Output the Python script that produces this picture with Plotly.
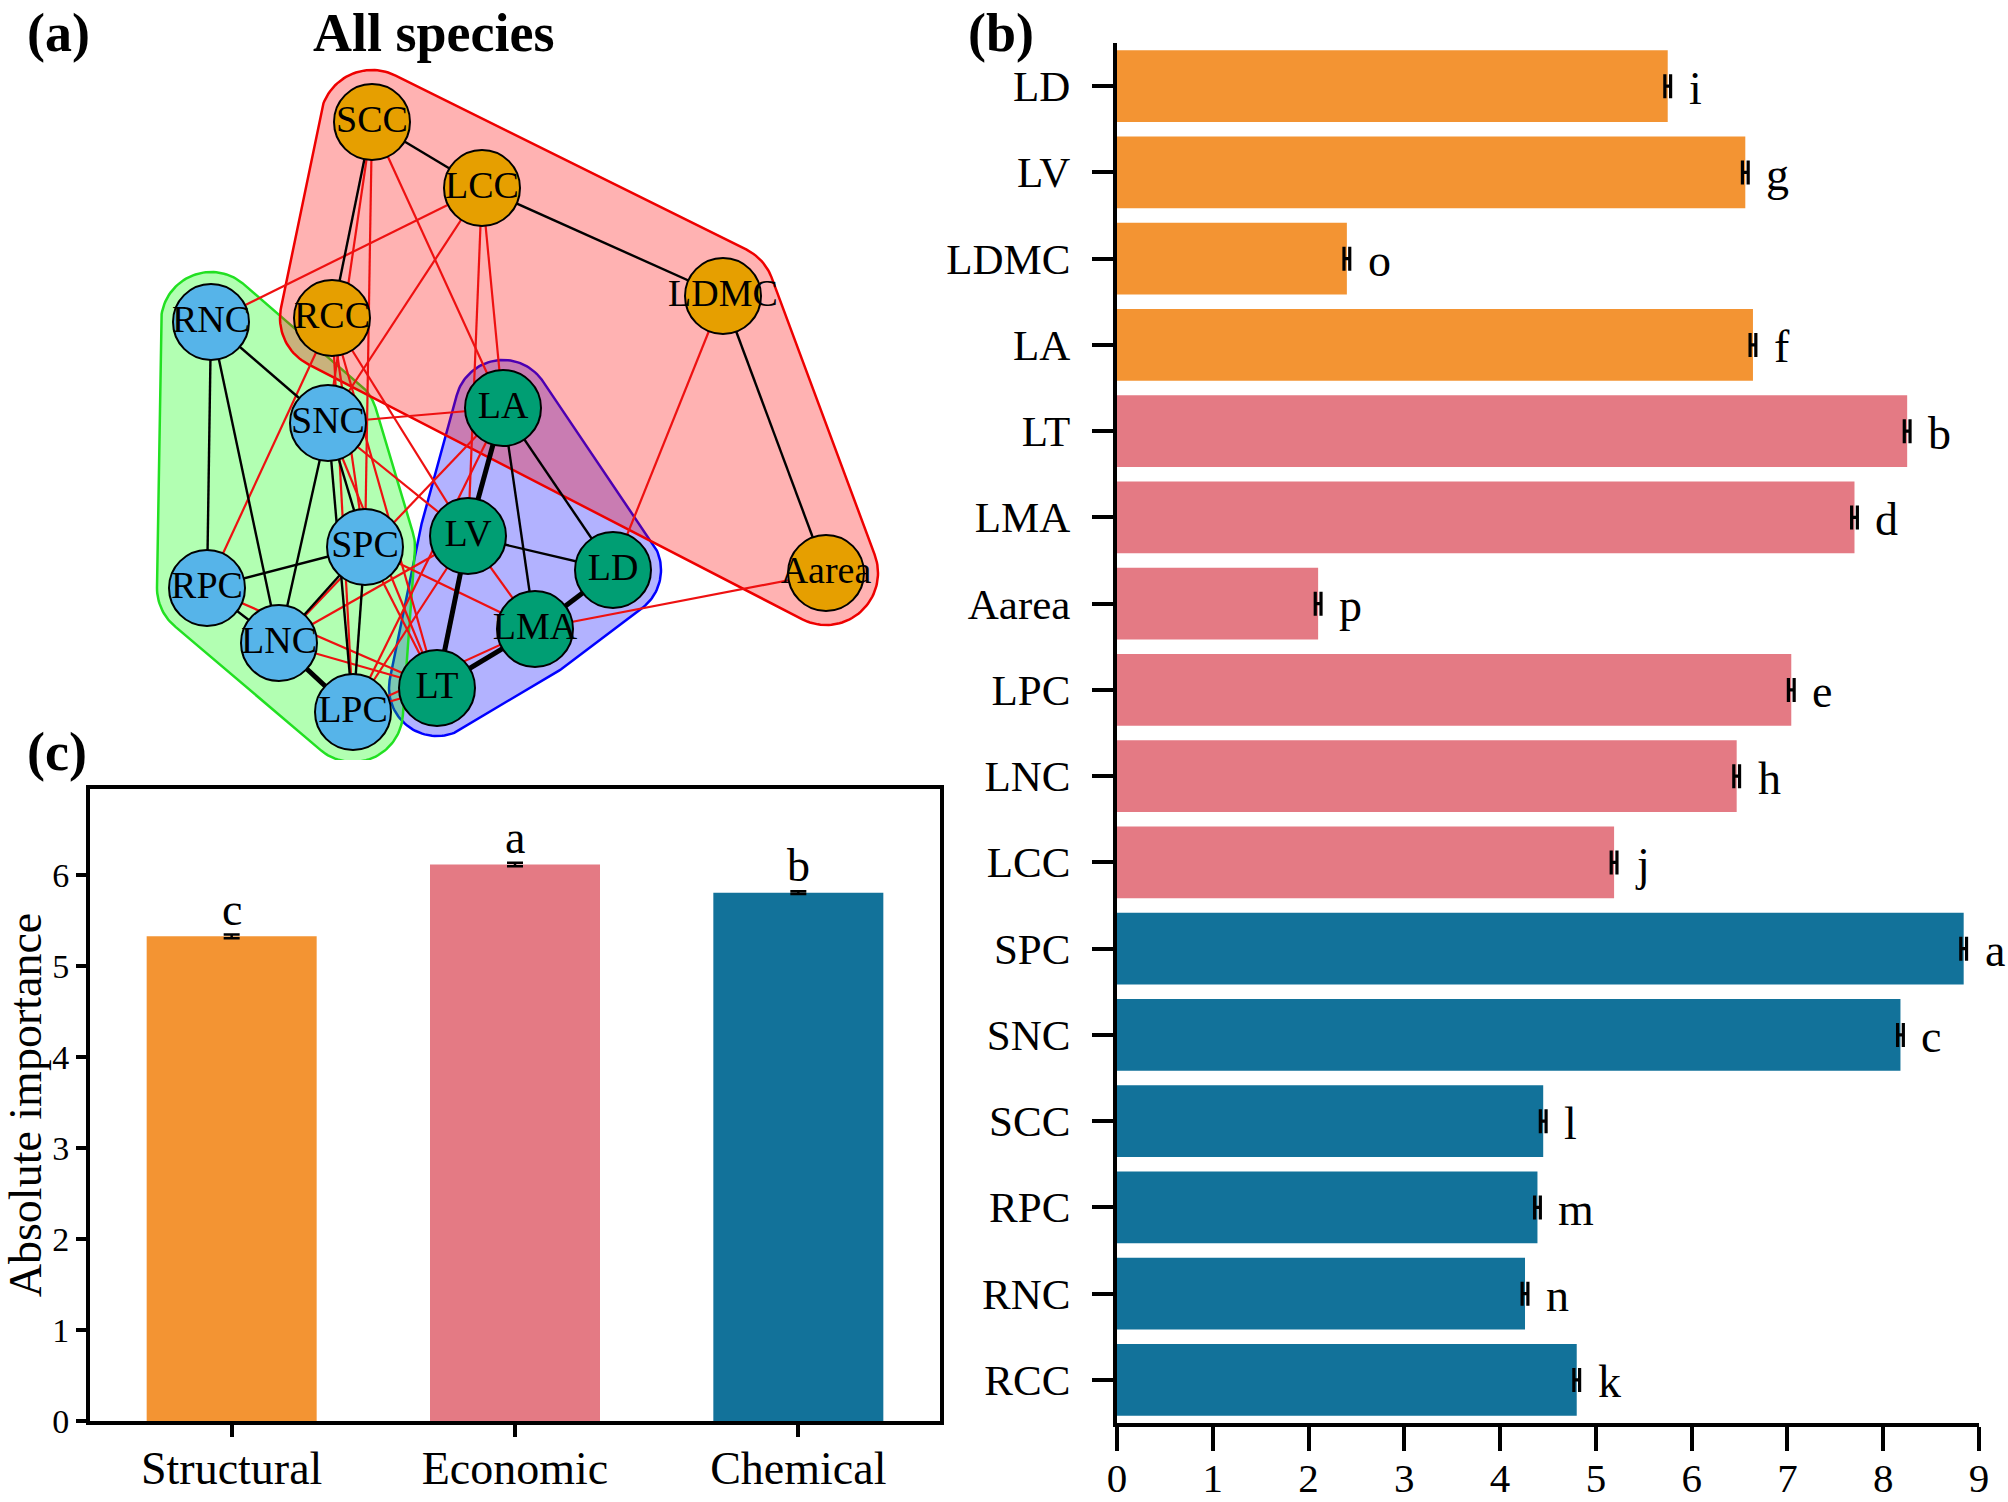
import numpy as np
import plotly.graph_objects as go

W, H = 2008, 1502
FONT = "Liberation Serif, Times New Roman, serif"

ORANGE = "#F39433"
PINK = "#E47A84"
BLUE = "#12729A"

# ---------------- panel (a): trait network ----------------
node_names = ["SCC", "LCC", "LDMC", "RNC", "RCC", "SNC", "LA", "LV", "SPC",
              "LD", "RPC", "Aarea", "LNC", "LMA", "LT", "LPC"]
node_x = [372, 482, 723, 211, 332, 328, 503, 468, 365, 613, 207, 826, 279, 535, 437, 353]
node_y = [122, 188, 296, 322, 318, 423, 408, 536, 547, 570, 588, 573, 643, 629, 688, 712]
node_module = ["orange", "orange", "orange", "blue", "orange", "blue", "green", "green", "blue",
               "green", "blue", "orange", "blue", "green", "green", "blue"]
module_colors = {"orange": "#E69F00", "blue": "#56B4E9", "green": "#009E73"}

group_red = ["SCC", "LCC", "LDMC", "Aarea", "RCC"]
group_green = ["RNC", "SNC", "SPC", "RPC", "LNC", "LPC"]
group_blue = ["LA", "LV", "LD", "LMA", "LT"]

edges_pos_thin = [("SCC", "LCC"), ("SCC", "RCC"), ("LCC", "LDMC"), ("LDMC", "Aarea"),
                  ("RNC", "SNC"), ("RNC", "RPC"), ("RNC", "LNC"), ("SNC", "SPC"),
                  ("SNC", "LNC"), ("SNC", "LPC"), ("SPC", "RPC"), ("SPC", "LNC"),
                  ("SPC", "LPC"), ("RPC", "LNC"), ("LA", "LMA"), ("LA", "LD"), ("LV", "LD")]
edges_pos_thick = [("LNC", "LPC"), ("LA", "LV"), ("LV", "LT"), ("LT", "LMA"), ("LMA", "LD")]
edges_neg = [("SCC", "SNC"), ("SCC", "SPC"), ("SCC", "LA"), ("LCC", "RNC"), ("LCC", "SNC"),
             ("LCC", "LA"), ("LCC", "LV"), ("LDMC", "LD"), ("Aarea", "LMA"), ("RCC", "RPC"),
             ("RCC", "SPC"), ("RCC", "LPC"), ("RCC", "LT"), ("RCC", "LV"), ("SNC", "LA"),
             ("SNC", "LV"), ("SNC", "LT"), ("SPC", "LMA"), ("SPC", "LT"), ("LA", "LNC"),
             ("LA", "LPC"), ("LV", "LNC"), ("LV", "LPC"), ("LV", "LMA"), ("LNC", "LT"),
             ("LPC", "LT"), ("RPC", "LT"), ("LPC", "LMA")]

# ---------------- panel (b): trait importance ----------------
traits = ["LD", "LV", "LDMC", "LA", "LT", "LMA", "Aarea", "LPC", "LNC", "LCC",
          "SPC", "SNC", "SCC", "RPC", "RNC", "RCC"]
trait_type = ["Structural"] * 4 + ["Economic"] * 6 + ["Chemical"] * 6
trait_values = [5.75, 6.56, 2.40, 6.64, 8.25, 7.70, 2.10, 7.04, 6.47, 5.19,
                8.84, 8.18, 4.45, 4.39, 4.26, 4.80]
trait_err = [0.03, 0.03, 0.03, 0.03, 0.03, 0.03, 0.03, 0.03, 0.03, 0.03,
             0.03, 0.03, 0.03, 0.03, 0.03, 0.03]
trait_letters = ["i", "g", "o", "f", "b", "d", "p", "e", "h", "j", "a", "c", "l", "m", "n", "k"]

# ---------------- panel (c): group importance ----------------
groups = ["Structural", "Economic", "Chemical"]
group_values = [5.33, 6.12, 5.81]
group_err = [0.02, 0.02, 0.015]
group_letters = ["c", "a", "b"]
type_colors = {"Structural": ORANGE, "Economic": PINK, "Chemical": BLUE}

fig = go.Figure()


def hull(names, r=50):
    pts = []
    for n in names:
        i = node_names.index(n)
        for t in np.linspace(0, 2 * np.pi, 120, endpoint=False):
            pts.append((node_x[i] + r * np.cos(t), node_y[i] + r * np.sin(t)))
    pts = sorted(set(pts))

    def cross(o, a, b):
        return (a[0] - o[0]) * (b[1] - o[1]) - (a[1] - o[1]) * (b[0] - o[0])
    lower, upper = [], []
    for p in pts:
        while len(lower) >= 2 and cross(lower[-2], lower[-1], p) <= 0:
            lower.pop()
        lower.append(p)
    for p in reversed(pts):
        while len(upper) >= 2 and cross(upper[-2], upper[-1], p) <= 0:
            upper.pop()
        upper.append(p)
    h = lower[:-1] + upper[:-1]
    h.append(h[0])
    return [p[0] for p in h], [p[1] for p in h]


for names, fillc, linec, rad in [(group_blue, "rgba(0,0,255,0.3)", "#0000FF", 48),
                                 (group_green, "rgba(0,255,0,0.3)", "#22E022", 50),
                                 (group_red, "rgba(255,0,0,0.3)", "#EE0000", 52)]:
    hx, hy = hull(names, rad)
    fig.add_trace(go.Scatter(x=hx, y=hy, mode="lines", fill="toself", fillcolor=fillc,
                             line=dict(color=linec, width=2.5), hoverinfo="skip",
                             showlegend=False, xaxis="x", yaxis="y"))


def edge_xy(edge_list):
    ex, ey = [], []
    for a, b in edge_list:
        i, j = node_names.index(a), node_names.index(b)
        ex += [node_x[i], node_x[j], None]
        ey += [node_y[i], node_y[j], None]
    return ex, ey


for elist, col, wd in [(edges_neg, "#EE1111", 2.2), (edges_pos_thin, "black", 2.4),
                       (edges_pos_thick, "black", 5)]:
    ex, ey = edge_xy(elist)
    fig.add_trace(go.Scatter(x=ex, y=ey, mode="lines", line=dict(color=col, width=wd),
                             hoverinfo="skip", showlegend=False, xaxis="x", yaxis="y"))

fig.add_trace(go.Scatter(
    x=node_x, y=node_y, mode="markers+text", text=node_names, textposition="middle center",
    textfont=dict(family=FONT, size=38, color="black"),
    marker=dict(size=76, color=[module_colors[m] for m in node_module],
                line=dict(color="black", width=2)),
    showlegend=False, xaxis="x", yaxis="y"))

# panel (b)
fig.add_trace(go.Bar(
    x=trait_values, y=traits, orientation="h", width=0.83,
    marker=dict(color=[type_colors[t] for t in trait_type], line=dict(width=0)),
    error_x=dict(type="data", array=trait_err, color="black", thickness=3.2, width=12),
    showlegend=False, xaxis="x2", yaxis="y2"))

# panel (c)
fig.add_trace(go.Bar(
    x=groups, y=group_values, width=0.6,
    marker=dict(color=[type_colors[g] for g in groups], line=dict(width=0)),
    error_y=dict(type="data", array=group_err, color="black", thickness=2.5, width=8),
    showlegend=False, xaxis="x3", yaxis="y3"))

annotations = []
for t, v, e, l in zip(traits, trait_values, trait_err, trait_letters):
    annotations.append(dict(x=v + e, y=t, xref="x2", yref="y2", text=l, showarrow=False,
                            xanchor="left", yanchor="middle", xshift=16, yshift=-2,
                            font=dict(family=FONT, size=46, color="black")))
for g, v, e, l in zip(groups, group_values, group_err, group_letters):
    annotations.append(dict(x=g, y=v + e, xref="x3", yref="y3", text=l, showarrow=False,
                            xanchor="center", yanchor="bottom", yshift=-2,
                            font=dict(family=FONT, size=46, color="black")))


def px(x):
    return x / W


def py(y):
    return 1 - y / H


for txt, x, y, anc, ya in [("<b>(a)</b>", 25, 1, "left", "top"),
                           ("<b>All species</b>", 433, 1, "center", "top"),
                           ("<b>(b)</b>", 966, 1, "left", "top"),
                           ("<b>(c)</b>", 25, 752, "left", "middle")]:
    annotations.append(dict(x=px(x), y=py(y), xref="paper", yref="paper", text=txt,
                            showarrow=False, xanchor=anc, yanchor=ya,
                            font=dict(family=FONT, size=54, color="black")))

axis_common = dict(showgrid=False, zeroline=False, automargin=False)

fig.update_layout(
    width=W, height=H, margin=dict(l=0, r=0, t=0, b=0),
    paper_bgcolor="white", plot_bgcolor="rgba(0,0,0,0)",
    font=dict(family=FONT, color="black"),
    annotations=annotations,
    xaxis=dict(domain=[0, px(960)], range=[0, 960], visible=False, **axis_common),
    yaxis=dict(domain=[py(760), 1], range=[760, 0], visible=False, **axis_common),
    xaxis2=dict(domain=[px(1117), px(1979)], range=[0, 9], anchor="y2", dtick=1,
                showline=True, linecolor="black", linewidth=4,
                ticks="outside", ticklen=24, tickwidth=4, tickcolor="black",
                tickfont=dict(family=FONT, size=41), ticklabelstandoff=-8, **axis_common),
    yaxis2=dict(domain=[py(1423), py(43)], range=[15.5, -0.5], anchor="x2",
                type="category", categoryorder="array", categoryarray=traits,
                showline=True, linecolor="black", linewidth=4,
                ticks="outside", ticklen=21, tickwidth=4, tickcolor="black",
                tickfont=dict(family=FONT, size=43), ticklabelstandoff=13, **axis_common),
    xaxis3=dict(domain=[px(90), px(940)], range=[-0.5, 2.5], anchor="y3",
                showline=True, mirror=True, linecolor="black", linewidth=4,
                ticks="outside", ticklen=12, tickwidth=4, tickcolor="black",
                tickfont=dict(family=FONT, size=46), ticklabelstandoff=-8, **axis_common),
    yaxis3=dict(domain=[py(1421), py(789)], range=[0, 6.95], anchor="x3", dtick=1,
                showline=True, mirror=True, linecolor="black", linewidth=4,
                ticks="outside", ticklen=10, tickwidth=4, tickcolor="black",
                tickfont=dict(family=FONT, size=34),
                title=dict(text="Absolute importance", font=dict(family=FONT, size=46),
                           standoff=4), **axis_common),
)

fig.write_html("out.html", config={"displayModeBar": False},
               post_script="document.body.style.margin='0';")
